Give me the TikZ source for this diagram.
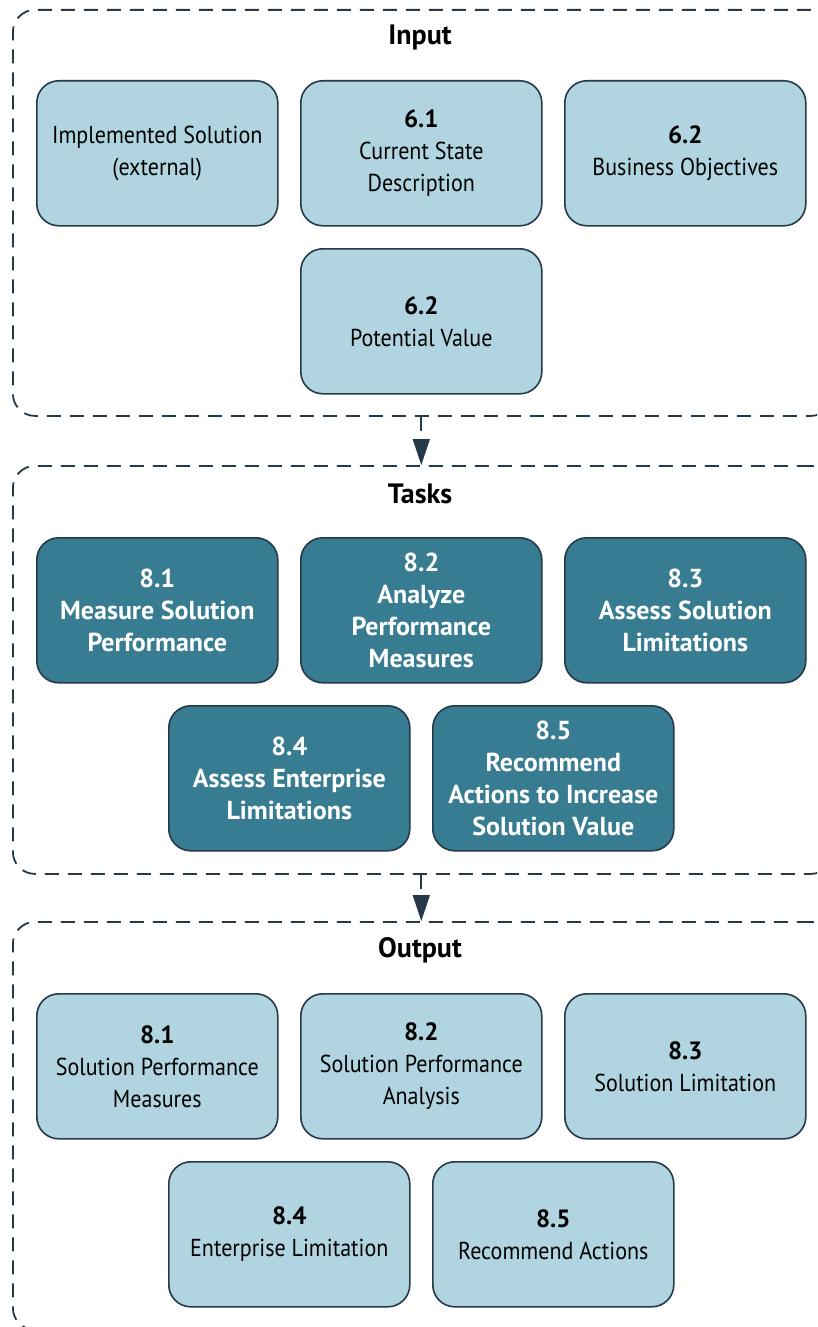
\documentclass[tikz,border=0pt]{standalone}
\usepackage{fontspec}
\setmainfont{PT Sans}
\newfontfamily\condf{PT Sans}[FakeStretch=0.9]
\usetikzlibrary{arrows.meta}
\definecolor{lightfill}{RGB}{176,212,224}
\definecolor{darkfill}{RGB}{56,124,145}
\definecolor{edge}{RGB}{38,57,73}
\newcommand{\numtxt}[1]{{\normalfont\fontsize{25}{32}\selectfont\bfseries #1}}
\begin{document}
\begin{tikzpicture}[x=1pt,y=-1pt,
  container/.style={draw=edge, line width=1.8pt, dash pattern=on 14pt off 9pt, rounded corners=22pt, minimum width=820pt, minimum height=406pt, anchor=north west, inner sep=0pt},
  box/.style={draw=edge, line width=1.6pt, rounded corners=22pt, minimum width=241pt, minimum height=145pt, align=center, anchor=north west, inner sep=0pt},
  inbox/.style={box, fill=lightfill, text=black, font=\condf\fontsize{24.5}{32}\selectfont},
  taskbox/.style={box, fill=darkfill, text=white, font=\fontsize{26}{32}\selectfont\bfseries},
  title/.style={font=\fontsize{28}{32}\selectfont\bfseries, text=black},
  flow/.style={draw=edge, line width=1.8pt, dash pattern=on 14pt off 9pt, -{Triangle[length=26pt,width=17pt]}}]
\useasboundingbox (0,0) rectangle (817,1327);
\clip (0,0) rectangle (817,1327);
% containers
\node[container, minimum height=406pt] (input) at (12,9) {};
\node[container, minimum height=408pt] (tasks) at (12,465) {};
\node[container, minimum height=408pt] (output) at (12,921) {};
\node[title] (tin) at (420,38) {Input};
\node[title] (ttk) at (420,494) {Tasks};
\node[title] (tout) at (420,950) {Output};
% input
\node[inbox] (is) at (36,80) {Implemented Solution\\(external)};
\node[inbox] (i61) at (300,80) {\numtxt{6.1}\\Current State\\Description};
\node[inbox] (i62) at (564,80) {\numtxt{6.2}\\Business Objectives};
\node[inbox] (pv) at (300,248) {\numtxt{6.2}\\Potential Value};
% tasks
\node[taskbox] (t81) at (36,537) {8.1\\Measure Solution\\Performance};
\node[taskbox] (t82) at (300,537) {8.2\\Analyze\\Performance\\Measures};
\node[taskbox] (t83) at (564,537) {8.3\\Assess Solution\\Limitations};
\node[taskbox] (t84) at (168,705) {8.4\\Assess Enterprise\\Limitations};
\node[taskbox] (t85) at (432,705) {8.5\\Recommend\\Actions to Increase\\Solution Value};
% output
\node[inbox] (o81) at (36,993) {\numtxt{8.1}\\Solution Performance\\Measures};
\node[inbox] (o82) at (300,993) {\numtxt{8.2}\\Solution Performance\\Analysis};
\node[inbox] (o83) at (564,993) {\numtxt{8.3}\\Solution Limitation};
\node[inbox] (o84) at (168,1161) {\numtxt{8.4}\\Enterprise Limitation};
\node[inbox] (o85) at (432,1161) {\numtxt{8.5}\\Recommend Actions};
% flows
\draw[flow] (input.south -| pv.south) -- (tasks.north -| pv.south);
\draw[flow] (tasks.south -| pv.south) -- (output.north -| pv.south);
\end{tikzpicture}
\end{document}
